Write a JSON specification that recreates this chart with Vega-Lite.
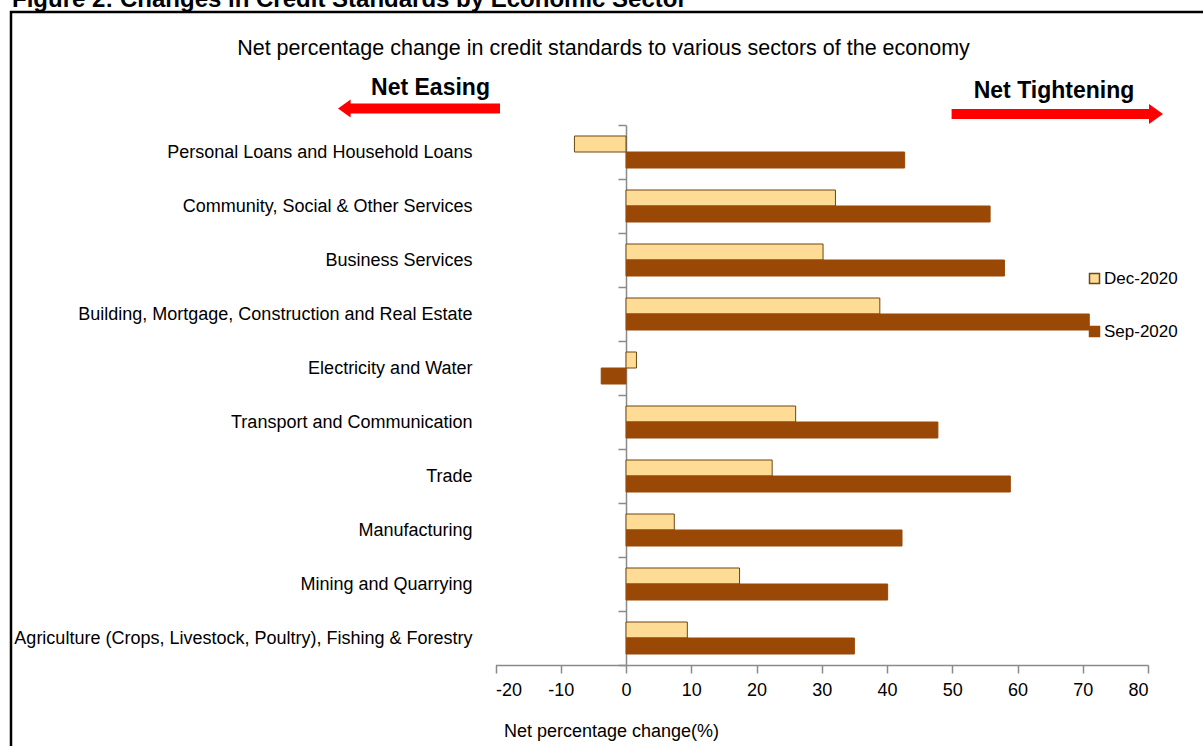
{
  "$schema": "https://vega.github.io/schema/vega-lite/v6.json",
  "width": 1192,
  "height": 734,
  "autosize": {"type": "none"},
  "padding": {"left": 11, "top": 12, "right": 0, "bottom": 0},
  "background": "white",
  "config": {
    "font": "Liberation Sans",
    "view": {"stroke": "#000000", "strokeWidth": 2.5, "strokeDash": [1192, 1926, 734]}
  },
  "datasets": {
    "sectors": [
      {"sector": "Personal Loans and Household Loans", "series": "Dec-2020", "value": -7.9},
      {"sector": "Personal Loans and Household Loans", "series": "Sep-2020", "value": 42.7},
      {"sector": "Community, Social & Other Services", "series": "Dec-2020", "value": 32.1},
      {"sector": "Community, Social & Other Services", "series": "Sep-2020", "value": 55.8},
      {"sector": "Business Services", "series": "Dec-2020", "value": 30.2},
      {"sector": "Business Services", "series": "Sep-2020", "value": 58.0},
      {"sector": "Building, Mortgage, Construction and Real Estate", "series": "Dec-2020", "value": 38.9},
      {"sector": "Building, Mortgage, Construction and Real Estate", "series": "Sep-2020", "value": 71.0},
      {"sector": "Electricity and Water", "series": "Dec-2020", "value": 1.6},
      {"sector": "Electricity and Water", "series": "Sep-2020", "value": -3.8},
      {"sector": "Transport and Communication", "series": "Dec-2020", "value": 26.0},
      {"sector": "Transport and Communication", "series": "Sep-2020", "value": 47.8},
      {"sector": "Trade", "series": "Dec-2020", "value": 22.4},
      {"sector": "Trade", "series": "Sep-2020", "value": 58.9},
      {"sector": "Manufacturing", "series": "Dec-2020", "value": 7.4},
      {"sector": "Manufacturing", "series": "Sep-2020", "value": 42.3},
      {"sector": "Mining and Quarrying", "series": "Dec-2020", "value": 17.4},
      {"sector": "Mining and Quarrying", "series": "Sep-2020", "value": 40.1},
      {"sector": "Agriculture (Crops, Livestock, Poultry), Fishing & Forestry", "series": "Dec-2020", "value": 9.4},
      {"sector": "Agriculture (Crops, Livestock, Poultry), Fishing & Forestry", "series": "Sep-2020", "value": 35.0}
    ]
  },
  "layer": [
    {
      "data": {"name": "sectors"},
      "mark": {"type": "bar", "strokeWidth": 1},
      "encoding": {
        "y": {
          "field": "sector",
          "type": "nominal",
          "sort": null,
          "scale": {
            "domain": [
              "Personal Loans and Household Loans",
              "Community, Social & Other Services",
              "Business Services",
              "Building, Mortgage, Construction and Real Estate",
              "Electricity and Water",
              "Transport and Communication",
              "Trade",
              "Manufacturing",
              "Mining and Quarrying",
              "Agriculture (Crops, Livestock, Poultry), Fishing & Forestry"
            ],
            "range": [113, 653],
            "paddingInner": 0,
            "paddingOuter": 0
          },
          "axis": {
            "title": null,
            "offset": -615,
            "tickBand": "extent",
            "tickSize": 8,
            "tickColor": "#8a8a8a",
            "tickWidth": 1.5,
            "domainColor": "#8a8a8a",
            "domainWidth": 1.5,
            "grid": false,
            "labelPadding": 146,
            "labelLimit": 0,
            "labelFont": "Liberation Sans",
            "labelFontSize": 18,
            "labelColor": "#000000"
          }
        },
        "yOffset": {
          "field": "series",
          "type": "nominal",
          "sort": ["Dec-2020", "Sep-2020"],
          "scale": {"paddingInner": 0, "paddingOuter": 0.6875}
        },
        "x": {
          "field": "value",
          "type": "quantitative",
          "scale": {"domain": [-20, 80], "range": [484.5, 1137], "nice": false},
          "axis": {
            "title": "Net percentage change(%)",
            "values": [-20, -10, 0, 10, 20, 30, 40, 50, 60, 70, 80],
            "labelExpr": "'' + datum.value",
            "offset": -81,
            "grid": false,
            "domainColor": "#8a8a8a",
            "domainWidth": 1.5,
            "tickColor": "#8a8a8a",
            "tickWidth": 1.5,
            "tickSize": 8,
            "labelFont": "Liberation Sans",
            "labelFontSize": 18,
            "labelColor": "#000000",
            "labelPadding": 8,
            "titleFont": "Liberation Sans",
            "titleFontSize": 18,
            "titleFontWeight": "normal",
            "titleColor": "#000000",
            "titleX": 600,
            "titleY": 71,
            "titleAlign": "center",
            "titleBaseline": "alphabetic"
          }
        },
        "fill": {
          "field": "series",
          "type": "nominal",
          "scale": {"domain": ["Dec-2020", "Sep-2020"], "range": ["#FFDC96", "#9A4806"]},
          "legend": {
            "title": null,
            "orient": "none",
            "legendX": 1075,
            "legendY": 258,
            "padding": 0,
            "symbolType": "square",
            "symbolSize": 100,
            "symbolStrokeWidth": 1.5,
            "labelFont": "Liberation Sans",
            "labelFontSize": 17,
            "labelColor": "#000000",
            "labelOffset": 1,
            "rowPadding": 35
          }
        },
        "stroke": {
          "field": "series",
          "type": "nominal",
          "scale": {"domain": ["Dec-2020", "Sep-2020"], "range": ["#6E4513", "#9A4806"]},
          "legend": {
            "title": null,
            "orient": "none",
            "legendX": 1075,
            "legendY": 258,
            "padding": 0,
            "symbolType": "square",
            "symbolSize": 100,
            "symbolStrokeWidth": 1.5,
            "labelFont": "Liberation Sans",
            "labelFontSize": 17,
            "labelColor": "#000000",
            "labelOffset": 1,
            "rowPadding": 35
          }
        }
      }
    },
    {
      "data": {"values": [{}]},
      "mark": {"type": "text", "text": "Figure 2: Changes in Credit Standards by Economic Sector", "font": "Liberation Sans", "fontSize": 24, "fontWeight": "bold", "color": "#000000", "align": "left", "baseline": "alphabetic", "dy": -145},
      "encoding": {
        "x": {"datum": -94.1, "type": "quantitative"},
        "y": {"datum": "Personal Loans and Household Loans", "type": "nominal"}
      }
    },
    {
      "data": {"values": [{}]},
      "mark": {"type": "text", "text": "Net percentage change in credit standards to various sectors of the economy", "font": "Liberation Sans", "fontSize": 21.5, "color": "#000000", "align": "center", "baseline": "alphabetic", "dy": -97},
      "encoding": {
        "x": {"datum": -3.45, "type": "quantitative"},
        "y": {"datum": "Personal Loans and Household Loans", "type": "nominal"}
      }
    },
    {
      "data": {"values": [{}]},
      "mark": {"type": "text", "text": "Net Easing", "font": "Liberation Sans", "fontSize": 23, "fontWeight": "bold", "color": "#000000", "align": "center", "baseline": "alphabetic", "dy": -57},
      "encoding": {
        "x": {"datum": -29.96, "type": "quantitative"},
        "y": {"datum": "Personal Loans and Household Loans", "type": "nominal"}
      }
    },
    {
      "data": {"values": [{}]},
      "mark": {"type": "text", "text": "Net Tightening", "font": "Liberation Sans", "fontSize": 23, "fontWeight": "bold", "color": "#000000", "align": "center", "baseline": "alphabetic", "dy": -54},
      "encoding": {
        "x": {"datum": 65.59, "type": "quantitative"},
        "y": {"datum": "Personal Loans and Household Loans", "type": "nominal"}
      }
    },
    {
      "data": {"values": [{}]},
      "mark": {"type": "rule", "color": "#FF0000", "strokeWidth": 10, "yOffset": -43.5},
      "encoding": {
        "x": {"datum": -19.31, "type": "quantitative"},
        "x2": {"datum": -42.8},
        "y": {"datum": "Personal Loans and Household Loans", "type": "nominal"}
      }
    },
    {
      "data": {"values": [{}]},
      "mark": {"type": "point", "shape": "M-0.7,0L0.7,-1L0.7,1Z", "filled": true, "color": "#FF0000", "opacity": 1, "size": 324, "strokeWidth": 0, "yOffset": -43.5},
      "encoding": {
        "x": {"datum": -43.17, "type": "quantitative"},
        "y": {"datum": "Personal Loans and Household Loans", "type": "nominal"}
      }
    },
    {
      "data": {"values": [{}]},
      "mark": {"type": "rule", "color": "#FF0000", "strokeWidth": 10, "yOffset": -38},
      "encoding": {
        "x": {"datum": 49.9, "type": "quantitative"},
        "x2": {"datum": 80.5},
        "y": {"datum": "Personal Loans and Household Loans", "type": "nominal"}
      }
    },
    {
      "data": {"values": [{}]},
      "mark": {"type": "point", "shape": "M0.7,0L-0.7,-1L-0.7,1Z", "filled": true, "color": "#FF0000", "opacity": 1, "size": 400, "strokeWidth": 0, "yOffset": -38},
      "encoding": {
        "x": {"datum": 81.23, "type": "quantitative"},
        "y": {"datum": "Personal Loans and Household Loans", "type": "nominal"}
      }
    }
  ]
}
